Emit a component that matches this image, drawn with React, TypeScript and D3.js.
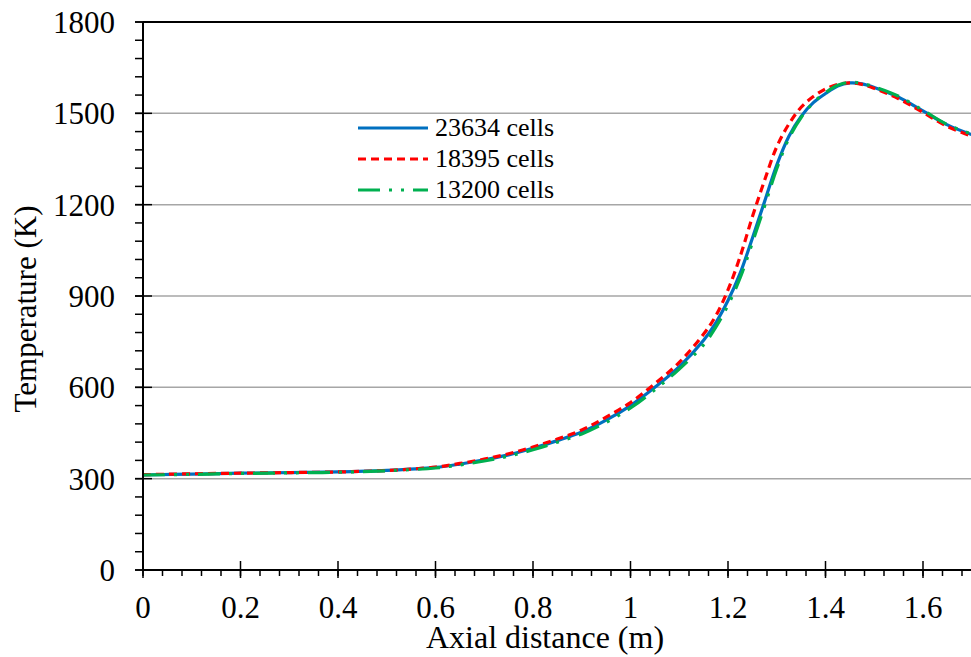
import * as d3 from "d3";
import React from "react";

// axial distance (m)
const xs = [0, 0.1, 0.2, 0.3, 0.4, 0.5, 0.6, 0.65, 0.7, 0.75, 0.8, 0.85, 0.9, 0.95, 1.0, 1.05, 1.1, 1.15, 1.175, 1.2, 1.225, 1.25, 1.275, 1.3, 1.325, 1.35, 1.375, 1.4, 1.425, 1.45, 1.475, 1.5, 1.55, 1.6, 1.65, 1.7];

const cells23634 = [312, 315, 318, 320, 322, 327, 337, 348, 362, 378, 400, 425, 453, 492, 540, 600, 668, 755, 812, 885, 975, 1090, 1210, 1330, 1425, 1490, 1535, 1565, 1590, 1600, 1597, 1585, 1553, 1508, 1462, 1430];
const cells18395 = [313, 316, 318, 320, 322, 327, 338, 350, 364, 382, 404, 430, 460, 502, 550, 612, 682, 775, 835, 920, 1030, 1160, 1280, 1390, 1465, 1520, 1555, 1580, 1595, 1600, 1595, 1582, 1548, 1503, 1457, 1425];
const cells13200 = [312, 314, 317, 319, 321, 326, 335, 345, 358, 374, 395, 420, 447, 485, 532, 592, 660, 740, 798, 870, 960, 1075, 1195, 1318, 1418, 1486, 1535, 1568, 1592, 1602, 1598, 1587, 1556, 1510, 1463, 1432];

const xTicks = [0, 0.2, 0.4, 0.6, 0.8, 1, 1.2, 1.4, 1.6];
const yTicks = [0, 300, 600, 900, 1200, 1500, 1800];

const series = [
  { name: "23634 cells", values: cells23634, color: "#0070c0", dash: "none" },
  { name: "18395 cells", values: cells18395, color: "#ff0000", dash: "8 5" },
  { name: "13200 cells", values: cells13200, color: "#00b050", dash: "22 9 3 9 3 9" },
];

const W = 971;
const H = 657;
const left = 143;
const top = 22;
const bottom = 570;
const font = "Liberation Serif, Times New Roman, serif";

export default function App() {
  const x = d3.scaleLinear().domain([0, 1.8]).range([left, left + 1.8 * 487.5]);
  const y = d3.scaleLinear().domain([0, 1800]).range([bottom, top]);

  const line = d3
    .line<number>()
    .x((_, i) => x(xs[i]))
    .y((d) => y(d))
    .curve(d3.curveCatmullRom.alpha(0.5));

  const xMinor = d3.range(0, 1.72, 0.04).map((v) => +v.toFixed(2));
  const yMinor = d3.range(0, 1801, 60);

  return (
    <svg width={W} height={H} style={{ position: "absolute", left: 0, top: 0, background: "#fff", fontFamily: font }}>
      {/* gridlines */}
      {yTicks.slice(1, -1).map((t) => (
        <line key={t} x1={left} x2={W} y1={y(t)} y2={y(t)} stroke="#a6a6a6" strokeWidth={1.5} />
      ))}
      {/* top border */}
      <line x1={left} x2={W} y1={y(1800)} y2={y(1800)} stroke="#000" strokeWidth={2} />

      {/* curves */}
      {series.map((s) => (
        <path
          key={s.name}
          d={line(s.values) || ""}
          fill="none"
          stroke={s.color}
          strokeWidth={3.2}
          strokeDasharray={s.dash}
        />
      ))}

      {/* axes */}
      <line x1={left} x2={W} y1={bottom} y2={bottom} stroke="#000" strokeWidth={2} />
      <line x1={left} x2={left} y1={top} y2={bottom} stroke="#000" strokeWidth={2} />

      {xMinor.map((v) => (
        <line key={"xm" + v} x1={x(v)} x2={x(v)} y1={bottom} y2={bottom + 6} stroke="#000" strokeWidth={1.5} />
      ))}
      {xTicks.map((v) => (
        <g key={"xt" + v}>
          <line x1={x(v)} x2={x(v)} y1={bottom - 9} y2={bottom + 8} stroke="#000" strokeWidth={1.5} />
          <text x={x(v)} y={618} textAnchor="middle" fontSize={31} fill="#000">
            {d3.format("")(v)}
          </text>
        </g>
      ))}

      {yMinor.map((v) => (
        <line key={"ym" + v} x1={left - 8} x2={left} y1={y(v)} y2={y(v)} stroke="#000" strokeWidth={1.5} />
      ))}
      {yTicks.map((v) => (
        <g key={"yt" + v}>
          <line x1={left - 8} x2={left + 9} y1={y(v)} y2={y(v)} stroke="#000" strokeWidth={1.5} />
          <text x={115} y={y(v) + 11} textAnchor="end" fontSize={31} fill="#000">
            {v}
          </text>
        </g>
      ))}

      {/* axis titles */}
      <text x={545} y={648} textAnchor="middle" fontSize={32} fill="#000">
        Axial distance (m)
      </text>
      <text
        transform={`translate(36, 309) rotate(-90)`}
        textAnchor="middle"
        fontSize={31}
        fill="#000"
      >
        Temperature (K)
      </text>

      {/* legend */}
      {series.map((s, i) => (
        <g key={"lg" + s.name} transform={`translate(358, ${128 + i * 31})`}>
          <line x1={0} x2={70} y1={0} y2={0} stroke={s.color} strokeWidth={3.2} strokeDasharray={s.dash} />
          <text x={77} y={8} fontSize={26} fill="#000">
            {s.name}
          </text>
        </g>
      ))}
    </svg>
  );
}
